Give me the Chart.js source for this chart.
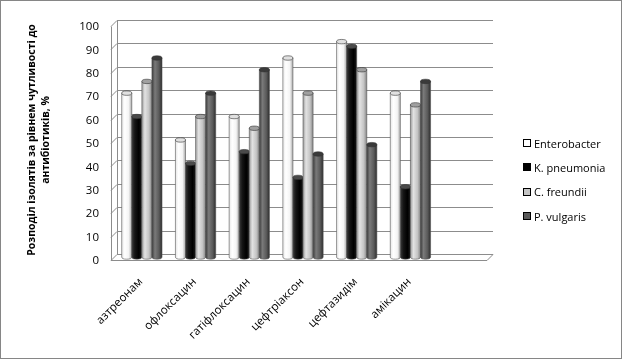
<!DOCTYPE html>
<html lang="uk">
<head>
  <meta charset="UTF-8">
  <title>Розподіл ізолятів за рівнем чутливості до антибіотиків</title>
  <script src="https://cdn.jsdelivr.net/npm/chart.js@4.4.1/dist/chart.umd.min.js"></script>
  <style>
    body {
      margin: 0;
      background: #fff;
    }
    .wrap {
      position: relative;
      width: 622px;
      height: 359px;
    }
    .legend {
      position: absolute;
      left: 523px;
      top: 131px;
      font-family: 'Open Sans', sans-serif;
      font-size: 11px;
      color: #000;
    }
    .legend-item {
      display: flex;
      align-items: center;
      height: 24.3px;
    }
    .swatch {
      width: 6px;
      height: 6px;
      border: 1px solid #000;
      margin-right: 3px;
    }
  </style>
</head>
<body>
  <div class="wrap">
    <canvas id="chart" width="622" height="359"></canvas>
    <div class="legend" id="legend"></div>
  </div>

  <script>
    // Data
    const categories = ['азтреонам', 'офлоксацин', 'гатіфлоксацин', 'цефтріаксон', 'цефтазидім', 'амікацин', ''];
    const seriesNames = ['Enterobacter', 'K. pneumonia', 'C. freundii', 'P. vulgaris'];
    const enterobacter = [70, 50, 60, 85, 92, 70, null];
    const kPneumonia = [60, 40, 45, 34, 90, 30, null];
    const cFreundii = [75, 60, 55, 70, 80, 65, null];
    const pVulgaris = [85, 70, 80, 44, 48, 75, null];
    const yMin = 0, yMax = 100, yStep = 10;

    // cylinder shading per series: [edge, highlight, body, dark edge, cap]
    const shades = [
      ['#e6e6e6', '#ffffff', '#f4f4f4', '#a8a8a8', '#e0e0e0'],
      ['#3a3a3a', '#151515', '#000000', '#1a1a1a', '#4a4a4a'],
      ['#9c9c9c', '#e2e2e2', '#c4c4c4', '#858585', '#a0a0a0'],
      ['#3c3c3c', '#7a7a7a', '#5a5a5a', '#2e2e2e', '#3a3a3a']
    ];
    const legendColors = ['#ffffff', '#000000', '#c4c4c4', '#5a5a5a'];

    // legend
    const legendEl = document.getElementById('legend');
    seriesNames.forEach((name, i) => {
      const item = document.createElement('div');
      item.className = 'legend-item';
      const sw = document.createElement('span');
      sw.className = 'swatch';
      sw.style.background = legendColors[i];
      const txt = document.createElement('span');
      txt.textContent = name;
      item.appendChild(sw);
      item.appendChild(txt);
      legendEl.appendChild(item);
    });

    // frame, back wall, side wall and floor
    const frame3d = {
      id: 'frame3d',
      beforeDraw(chart) {
        const ctx = chart.ctx;
        ctx.save();
        ctx.strokeStyle = '#868686';
        ctx.lineWidth = 1;
        ctx.strokeRect(0.5, 0.5, chart.width - 1, chart.height - 1);
        ctx.restore();
      },
      beforeDatasetsDraw(chart) {
        const ctx = chart.ctx;
        const { left, right, bottom } = chart.chartArea;
        const y = chart.scales.y;
        const fx = left - 4, bx = left + 2;
        ctx.save();
        ctx.strokeStyle = '#8c8c8c';
        ctx.lineWidth = 1;
        ctx.beginPath();
        for (let v = yMin; v <= yMax; v += yStep) {
          const py = Math.round(y.getPixelForValue(v)) + 0.5;
          ctx.moveTo(bx, py - 3);
          ctx.lineTo(right + 2, py - 3);
          ctx.moveTo(fx, py + 3);
          ctx.lineTo(bx, py - 3);
        }
        const top = Math.round(y.getPixelForValue(yMax)) + 0.5;
        const bot = Math.round(bottom) + 0.5;
        ctx.moveTo(fx + 0.5, top + 3);
        ctx.lineTo(fx + 0.5, bot + 3);
        ctx.moveTo(bx + 0.5, top - 3);
        ctx.lineTo(bx + 0.5, bot - 3);
        ctx.moveTo(fx, bot + 3);
        ctx.lineTo(right - 4, bot + 3);
        ctx.lineTo(right + 2, bot - 3);
        ctx.stroke();
        ctx.restore();
      }
    };

    // category labels at 45 degrees, placed from the x scale
    const catLabels = {
      id: 'catLabels',
      afterDraw(chart) {
        const ctx = chart.ctx;
        const x = chart.scales.x;
        const base = chart.chartArea.bottom + 23;
        ctx.save();
        ctx.font = '11.5px "Open Sans"';
        ctx.fillStyle = '#000';
        ctx.textAlign = 'right';
        ctx.textBaseline = 'middle';
        categories.forEach((c, i) => {
          if (!c) return;
          ctx.save();
          ctx.translate(x.getPixelForValue(i) - 1, base);
          ctx.rotate(-Math.PI / 4);
          ctx.fillText(c, 0, 0);
          ctx.restore();
        });
        ctx.restore();
      }
    };

    // draw bars as cylinders from the bar elements
    const cylinders = {
      id: 'cylinders',
      afterDatasetsDraw(chart) {
        const ctx = chart.ctx;
        ctx.save();
        chart.data.datasets.forEach((ds, di) => {
          const meta = chart.getDatasetMeta(di);
          const s = shades[di];
          meta.data.forEach((el, i) => {
            if (ds.data[i] == null) return;
            const w = el.width, x0 = el.x - w / 2, x1 = el.x + w / 2;
            const top = el.y, base = el.base;
            const ry = 2.2;
            const g = ctx.createLinearGradient(x0, 0, x1, 0);
            g.addColorStop(0, s[0]);
            g.addColorStop(0.3, s[1]);
            g.addColorStop(0.7, s[2]);
            g.addColorStop(1, s[3]);
            ctx.fillStyle = g;
            ctx.beginPath();
            ctx.moveTo(x0, top);
            ctx.lineTo(x0, base);
            ctx.ellipse(el.x, base, w / 2, ry, 0, Math.PI, 0, true);
            ctx.lineTo(x1, top);
            ctx.closePath();
            ctx.fill();
            ctx.strokeStyle = '#555';
            ctx.lineWidth = 0.6;
            ctx.stroke();
            ctx.beginPath();
            ctx.ellipse(el.x, top, w / 2, ry, 0, 0, Math.PI * 2);
            ctx.fillStyle = s[4];
            ctx.fill();
            ctx.strokeStyle = '#333';
            ctx.stroke();
          });
        });
        ctx.restore();
      }
    };

    const makeSet = (label, data) => ({
      label: label,
      data: data,
      backgroundColor: 'rgba(0,0,0,0)',
      borderWidth: 0,
      categoryPercentage: 0.75,
      barPercentage: 1
    });

    new Chart(document.getElementById('chart'), {
      type: 'bar',
      data: {
        labels: categories,
        datasets: [
          makeSet(seriesNames[0], enterobacter),
          makeSet(seriesNames[1], kPneumonia),
          makeSet(seriesNames[2], cFreundii),
          makeSet(seriesNames[3], pVulgaris)
        ]
      },
      options: {
        responsive: false,
        animation: false,
        layout: { padding: { left: 0, right: 131, top: 22, bottom: 2 } },
        plugins: {
          legend: { display: false },
          tooltip: { enabled: false }
        },
        scales: {
          x: {
            grid: { display: false, drawTicks: false },
            border: { display: false },
            ticks: { display: false },
            afterFit: (scale) => { scale.height = 100; }
          },
          y: {
            min: yMin,
            max: yMax,
            grid: { display: false, drawTicks: false },
            border: { display: false },
            ticks: {
              stepSize: yStep,
              color: '#000',
              font: { family: 'Open Sans', size: 11.5 },
              padding: 16,
              labelOffset: 4
            },
            title: {
              display: true,
              text: ['Розподіл ізолятів за рівнем чутливості до', 'антибіотиків, %'],
              color: '#000',
              font: { family: 'Open Sans', size: 10.5, weight: 'bold', lineHeight: 1.35 },
              padding: { top: 25, bottom: 0 }
            },
            afterFit: (scale) => { scale.width = 115; }
          }
        }
      },
      plugins: [frame3d, cylinders, catLabels]
    });
  </script>
</body>
</html>
